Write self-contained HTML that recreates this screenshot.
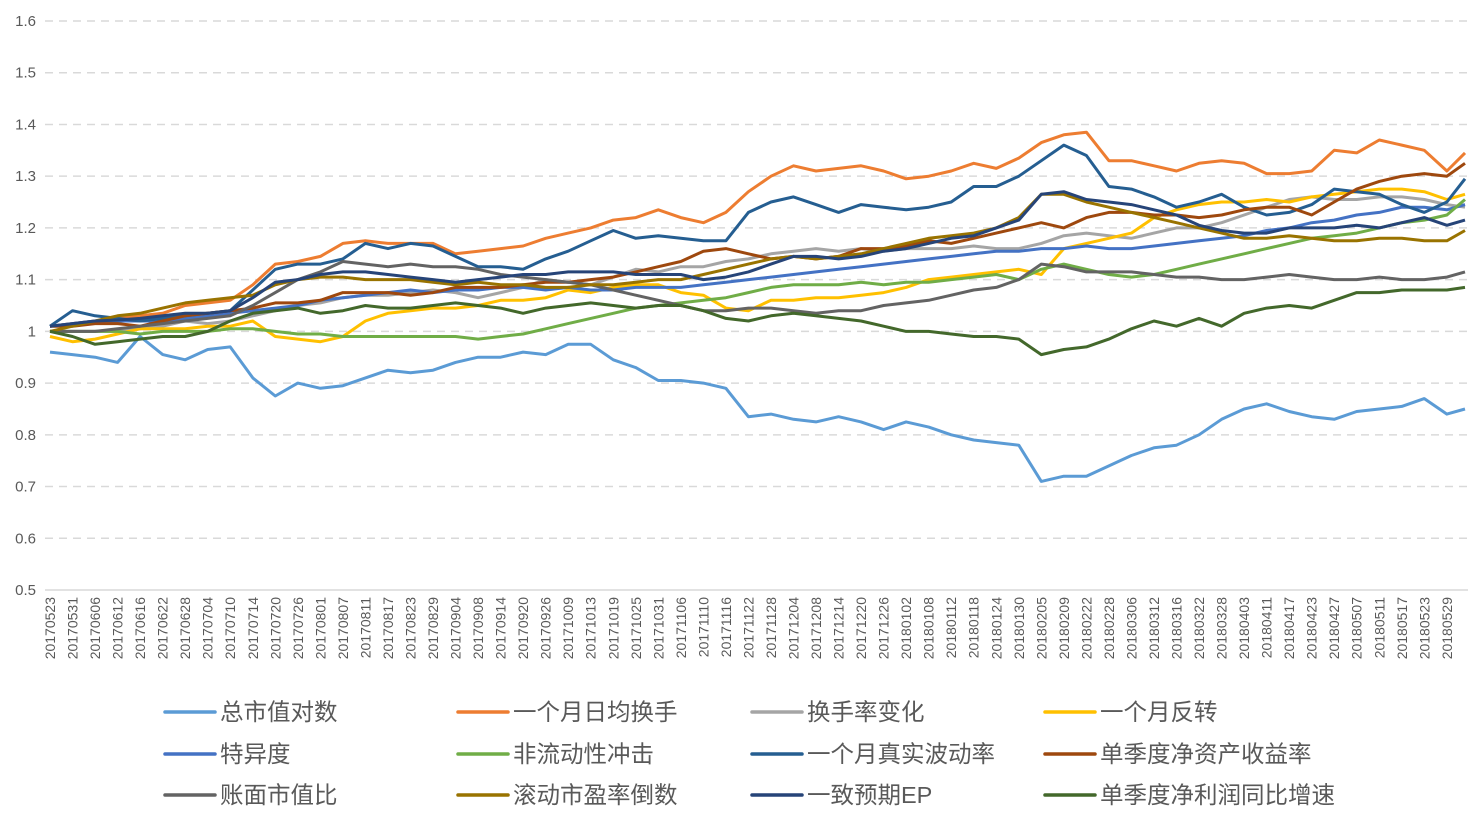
<!DOCTYPE html>
<html><head><meta charset="utf-8">
<style>
html,body{margin:0;padding:0;background:#fff;width:1476px;height:822px;overflow:hidden}
svg{display:block;font-family:"Liberation Sans","Noto Sans CJK SC",sans-serif}
</style></head>
<body>
<svg id="chart" width="1476" height="822" viewBox="0 0 1476 822">
  <g id="grid"></g>
  <g id="yaxis"></g>
  <g id="xaxis"></g>
  <g id="series"></g>
  <g id="legend"></g>
</svg>
<script>
const categories = ["20170523","20170531","20170606","20170612","20170616","20170622","20170628","20170704","20170710","20170714","20170720","20170726","20170801","20170807","20170811","20170817","20170823","20170829","20170904","20170908","20170914","20170920","20170926","20171009","20171013","20171019","20171025","20171031","20171106","20171110","20171116","20171122","20171128","20171204","20171208","20171214","20171220","20171226","20180102","20180108","20180112","20180118","20180124","20180130","20180205","20180209","20180222","20180228","20180306","20180312","20180316","20180322","20180328","20180403","20180411","20180417","20180423","20180427","20180507","20180511","20180517","20180523","20180529","20180601"];
const yTicks = [0.5,0.6,0.7,0.8,0.9,1,1.1,1.2,1.3,1.4,1.5,1.6];
const seriesNames = ["总市值对数","一个月日均换手","换手率变化","一个月反转","特异度","非流动性冲击","一个月真实波动率","单季度净资产收益率","账面市值比","滚动市盈率倒数","一致预期EP","单季度净利润同比增速"];
const s1 = [.96,.955,.95,.94,.99,.955,.945,.965,.97,.91,.875,.90,.89,.895,.91,.925,.92,.925,.94,.95,.95,.96,.955,.975,.975,.945,.93,.905,.905,.90,.89,.835,.84,.83,.825,.835,.825,.81,.825,.815,.80,.79,.785,.78,.71,.72,.72,.74,.76,.775,.78,.80,.83,.85,.86,.845,.835,.83,.845,.85,.855,.87,.84,.85];
const s2 = [1.01,1.015,1.02,1.025,1.03,1.035,1.05,1.055,1.06,1.09,1.13,1.135,1.145,1.17,1.175,1.17,1.17,1.17,1.15,1.155,1.16,1.165,1.18,1.19,1.2,1.215,1.22,1.235,1.22,1.21,1.23,1.27,1.3,1.32,1.31,1.315,1.32,1.31,1.295,1.3,1.31,1.325,1.315,1.335,1.365,1.38,1.385,1.33,1.33,1.32,1.31,1.325,1.33,1.325,1.305,1.305,1.31,1.35,1.345,1.37,1.36,1.35,1.31,1.345];
const s3 = [1.0,1.0,1.0,1.0,1.005,1.01,1.02,1.015,1.02,1.03,1.04,1.05,1.055,1.065,1.07,1.07,1.075,1.08,1.075,1.065,1.075,1.085,1.1,1.095,1.09,1.105,1.12,1.115,1.125,1.125,1.135,1.14,1.15,1.155,1.16,1.155,1.16,1.155,1.16,1.16,1.16,1.165,1.16,1.16,1.17,1.185,1.19,1.185,1.18,1.19,1.2,1.2,1.21,1.225,1.24,1.255,1.26,1.255,1.255,1.26,1.26,1.255,1.245,1.24];
const s4 = [.99,.98,.985,.995,1.005,1.005,1.005,1.01,1.01,1.02,.99,.985,.98,.99,1.02,1.035,1.04,1.045,1.045,1.05,1.06,1.06,1.065,1.08,1.075,1.085,1.09,1.09,1.075,1.07,1.045,1.04,1.06,1.06,1.065,1.065,1.07,1.075,1.085,1.1,1.105,1.11,1.115,1.12,1.11,1.16,1.17,1.18,1.19,1.22,1.235,1.245,1.25,1.25,1.255,1.25,1.26,1.265,1.27,1.275,1.275,1.27,1.255,1.265];
const s5 = [1.01,1.015,1.02,1.02,1.02,1.02,1.025,1.03,1.035,1.04,1.045,1.05,1.06,1.065,1.07,1.075,1.08,1.075,1.08,1.08,1.085,1.085,1.08,1.085,1.08,1.08,1.085,1.085,1.085,1.09,1.095,1.1,1.105,1.11,1.115,1.12,1.125,1.13,1.135,1.14,1.145,1.15,1.155,1.155,1.16,1.16,1.165,1.16,1.16,1.165,1.17,1.175,1.18,1.185,1.195,1.2,1.21,1.215,1.225,1.23,1.24,1.24,1.235,1.245];
const s6 = [1.0,1.0,1.0,1.0,.995,1.0,1.0,1.0,1.005,1.005,1.0,.995,.995,.99,.99,.99,.99,.99,.99,.985,.99,.995,1.005,1.015,1.025,1.035,1.045,1.05,1.055,1.06,1.065,1.075,1.085,1.09,1.09,1.09,1.095,1.09,1.095,1.095,1.1,1.105,1.11,1.1,1.12,1.13,1.12,1.11,1.105,1.11,1.12,1.13,1.14,1.15,1.16,1.17,1.18,1.185,1.19,1.2,1.21,1.215,1.225,1.255];
const s7 = [1.01,1.04,1.03,1.025,1.02,1.025,1.03,1.035,1.04,1.08,1.12,1.13,1.13,1.14,1.17,1.16,1.17,1.165,1.145,1.125,1.125,1.12,1.14,1.155,1.175,1.195,1.18,1.185,1.18,1.175,1.175,1.23,1.25,1.26,1.245,1.23,1.245,1.24,1.235,1.24,1.25,1.28,1.28,1.3,1.33,1.36,1.34,1.28,1.275,1.26,1.24,1.25,1.265,1.24,1.225,1.23,1.245,1.275,1.27,1.265,1.245,1.23,1.25,1.295];
const s8 = [1.01,1.01,1.015,1.015,1.01,1.02,1.03,1.035,1.04,1.045,1.055,1.055,1.06,1.075,1.075,1.075,1.07,1.075,1.085,1.085,1.085,1.09,1.095,1.095,1.1,1.105,1.115,1.125,1.135,1.155,1.16,1.15,1.14,1.145,1.14,1.145,1.16,1.16,1.165,1.175,1.17,1.18,1.19,1.2,1.21,1.2,1.22,1.23,1.23,1.225,1.225,1.22,1.225,1.235,1.24,1.24,1.225,1.25,1.275,1.29,1.3,1.305,1.3,1.325];
const s9 = [1.0,1.0,1.0,1.005,1.01,1.015,1.02,1.025,1.03,1.05,1.075,1.1,1.115,1.135,1.13,1.125,1.13,1.125,1.125,1.12,1.11,1.105,1.1,1.095,1.09,1.08,1.07,1.06,1.05,1.04,1.04,1.045,1.045,1.04,1.035,1.04,1.04,1.05,1.055,1.06,1.07,1.08,1.085,1.1,1.13,1.125,1.115,1.115,1.115,1.11,1.105,1.105,1.1,1.1,1.105,1.11,1.105,1.1,1.1,1.105,1.1,1.1,1.105,1.115];
const s10 = [1.0,1.01,1.02,1.03,1.035,1.045,1.055,1.06,1.065,1.07,1.09,1.1,1.105,1.105,1.1,1.1,1.1,1.095,1.09,1.095,1.09,1.09,1.085,1.085,1.09,1.09,1.095,1.1,1.1,1.11,1.12,1.13,1.14,1.145,1.14,1.145,1.15,1.16,1.17,1.18,1.185,1.19,1.2,1.22,1.265,1.265,1.25,1.24,1.23,1.22,1.21,1.2,1.19,1.18,1.18,1.185,1.18,1.175,1.175,1.18,1.18,1.175,1.175,1.195];
const s11 = [1.01,1.015,1.02,1.022,1.025,1.03,1.035,1.035,1.04,1.065,1.095,1.1,1.11,1.115,1.115,1.11,1.105,1.1,1.095,1.1,1.105,1.11,1.11,1.115,1.115,1.115,1.11,1.11,1.11,1.1,1.105,1.115,1.13,1.145,1.145,1.14,1.145,1.155,1.16,1.17,1.18,1.185,1.2,1.215,1.265,1.27,1.255,1.25,1.245,1.235,1.225,1.205,1.195,1.19,1.19,1.2,1.2,1.2,1.205,1.2,1.21,1.22,1.205,1.215];
const s12 = [1.0,.99,.975,.98,.985,.99,.99,1.0,1.02,1.035,1.04,1.045,1.035,1.04,1.05,1.045,1.045,1.05,1.055,1.05,1.045,1.035,1.045,1.05,1.055,1.05,1.045,1.05,1.05,1.04,1.025,1.02,1.03,1.035,1.03,1.025,1.02,1.01,1.0,1.0,.995,.99,.99,.985,.955,.965,.97,.985,1.005,1.02,1.01,1.025,1.01,1.035,1.045,1.05,1.045,1.06,1.075,1.075,1.08,1.08,1.08,1.085];
const seriesValues = [s1,s2,s3,s4,s5,s6,s7,s8,s9,s10,s11,s12];
const colors = ["#5B9BD5","#ED7D31","#A5A5A5","#FFC000","#4472C4","#70AD47","#255E91","#9E480E","#636363","#997300","#264478","#43682B"];
const seriesKeys = ["size","turnover-1m","turnover-change","reversal-1m","idio-vol","illiquidity-shock","true-vol-1m","roe-q","book-to-market","ep-ttm","consensus-ep","profit-growth-q"];

const NS="http://www.w3.org/2000/svg";
const X0=50, STEP=22.53, Y_TOP=21, Y_BOT=590, VMIN=0.5, VMAX=1.6, XR=1468;
function xScale(i){return X0+i*STEP;}
function yScale(v){return Y_BOT-(v-VMIN)/(VMAX-VMIN)*(Y_BOT-Y_TOP);}
function mk(tag,attrs,parent){const e=document.createElementNS(NS,tag);for(const k in attrs)e.setAttribute(k,attrs[k]);parent.appendChild(e);return e;}

const grid=document.getElementById('grid'), yaxis=document.getElementById('yaxis'), xaxis=document.getElementById('xaxis'), sg=document.getElementById('series'), lg=document.getElementById('legend');

yTicks.forEach(t=>{
  const y=yScale(t);
  if(t===VMIN){
    const l=mk('line',{x1:45,x2:XR,y1:y,y2:y,stroke:'#D9D9D9','stroke-width':1.5},grid);
    
    
  } else {
    const l=mk('line',{x1:45,x2:XR,y1:y,y2:y,stroke:'#D9D9D9','stroke-width':1.5,'stroke-dasharray':'8,6'},grid);
    
    
  }
  const tx=mk('text',{x:36,y:y+5,'text-anchor':'end','font-size':15,fill:'#595959'},yaxis);
  tx.textContent=String(t);
  
  
});

categories.forEach((c,i)=>{
  if(i>=categories.length-1) return;
  const x=xScale(i);
  const tx=mk('text',{x:0,y:0,'text-anchor':'end','font-size':14,fill:'#595959',transform:`translate(${x+5},${597}) rotate(-90)`},xaxis);
  tx.textContent=c;
  
  
});

seriesValues.forEach((vals,si)=>{
  const pts=vals.map((v,i)=>{const x=i===vals.length-1?1465:xScale(i);return x.toFixed(1)+','+yScale(v).toFixed(1);}).join(' ');
  const pl=mk('polyline',{points:pts,fill:'none',stroke:colors[si],'stroke-width':3,'stroke-linejoin':'round'},sg);
  
  
});

const colX=[165,458,752,1045], rowY=[712,754,795];
seriesNames.forEach((n,si)=>{
  const cx=colX[si%4], cy=rowY[Math.floor(si/4)];
  const g=mk('g',{},lg);
  
  
  mk('line',{x1:cx,x2:cx+50,y1:cy,y2:cy,stroke:colors[si],'stroke-width':3.5,'stroke-linecap':'round'},g);
  const t=mk('text',{x:cx+55,y:cy+8,'font-size':23.5,fill:'#595959'},g);
  t.textContent=n;
});
</script>
</body></html>
